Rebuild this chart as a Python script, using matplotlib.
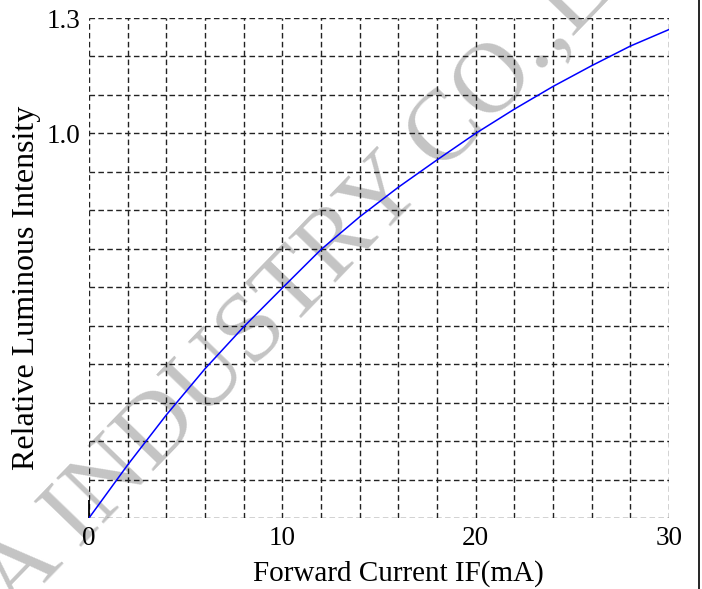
import matplotlib
matplotlib.use("Agg")
import matplotlib.pyplot as plt
from matplotlib.lines import Line2D

# values
current_ma = [0, 2, 4, 6, 8, 10, 12, 14, 16, 18, 20, 22, 24, 26, 28, 30]
rel_intensity = [0, 0.138, 0.268, 0.388, 0.497, 0.598, 0.698, 0.783, 0.86,
                 0.931, 1.0, 1.063, 1.122, 1.176, 1.227, 1.27]

x_major = [0, 10, 20, 30]
x_minor = list(range(0, 31, 2))
y_major = [1.0, 1.3]
y_major_labels = ['1.0', '1.3']
y_minor = [i / 10 for i in range(0, 14)]

plt.rcParams['font.family'] = ['Liberation Serif', 'DejaVu Serif']

fig = plt.figure(figsize=(7.02, 5.89), dpi=100)
ax = fig.add_axes([89 / 702, 1 - 518 / 589, 580 / 702, 500 / 589])
ax.patch.set_alpha(0)

# watermark behind the grid
ax.text(255 / 702, 1 - 330 / 589, 'CHINA INDUSTRY CO.,LTD', transform=fig.transFigure,
        fontsize=72, color='#c4c4c4', rotation=46, rotation_mode='anchor',
        ha='center', va='center', zorder=0.1, clip_on=False)

ax.plot(current_ma, rel_intensity, color='#0000ff', lw=1.1, zorder=3)

ax.set_xlim(0, 30)
ax.set_ylim(0, 1.3)
ax.set_xticks(x_major)
ax.set_xticks(x_minor, minor=True)
ax.set_yticks(y_major)
ax.set_yticklabels(y_major_labels)
ax.set_yticks(y_minor, minor=True)

ax.grid(True, which='both', color='#222222', lw=1.0, linestyle=(0, (4, 2.4)), zorder=1)
ax.set_axisbelow(False)

for s in ax.spines.values():
    s.set_visible(False)

ax.tick_params(axis='both', which='minor', length=0)
ax.tick_params(axis='y', which='major', length=0, pad=6, labelsize=19.5)
ax.tick_params(axis='x', which='major', direction='in', length=13, width=1.3,
               pad=6, labelsize=19.5)
for t in ax.xaxis.get_major_ticks()[1:]:
    t.tick1line.set_visible(False)

ax.set_xlabel('Forward Current IF(mA)', fontsize=21)
ax.set_ylabel('Relative Luminous Intensity', fontsize=23)
ax.xaxis.set_label_coords(0.534, -0.084)
ax.yaxis.set_label_coords(-0.083, 0.461)

# page border on the right
fig.add_artist(Line2D([699 / 702, 699 / 702], [0, 1], transform=fig.transFigure,
                      color='black', lw=1.2))

fig.savefig('out.png', dpi=100)
